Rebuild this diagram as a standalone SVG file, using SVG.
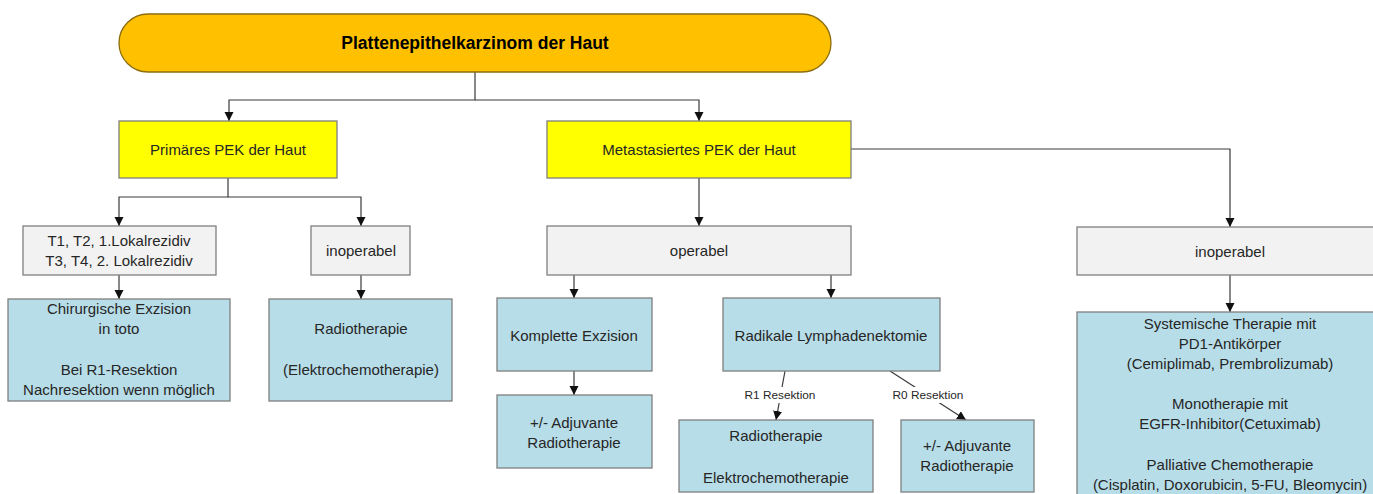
<svg xmlns="http://www.w3.org/2000/svg" width="1373" height="494" viewBox="0 0 1373 494">
<defs>
<marker id="arr" markerUnits="userSpaceOnUse" markerWidth="10" markerHeight="10" refX="9" refY="5" orient="auto">
<path d="M0,0.5 L9,5 L0,9.5 z" fill="#111"/>
</marker>
<style>
.box{stroke:#7f7f7f;stroke-width:1.3}
.pill{fill:#FFC000;stroke:#8c6d10;stroke-width:1.3}
.yel{fill:#FFFF00}
.gry{fill:#F2F2F2}
.blu{fill:#B7DDE8}
.t{font-family:"Liberation Sans",Arial,sans-serif;font-size:15px;fill:#262626;text-anchor:middle;dominant-baseline:central}
.tt{font-family:"Liberation Sans",Arial,sans-serif;font-size:17.5px;font-weight:bold;fill:#000;text-anchor:middle;dominant-baseline:central}
.lbl{font-family:"Liberation Sans",Arial,sans-serif;font-size:11.8px;fill:#262626;text-anchor:middle;dominant-baseline:central}
.c{fill:none;stroke:#3a3a3a;stroke-width:1.2}
</style>
</defs>
<rect width="1373" height="494" fill="#fff"/>

<g id="connectors">
<path class="c" d="M475,72 V100 H229 V121" marker-end="url(#arr)"/>
<path class="c" d="M475,100 H699 V121" marker-end="url(#arr)"/>
<path class="c" d="M228,178 V197 H119 V226" marker-end="url(#arr)"/>
<path class="c" d="M228,197 H361 V226" marker-end="url(#arr)"/>
<path class="c" d="M119,275 V299" marker-end="url(#arr)"/>
<path class="c" d="M361,275 V299" marker-end="url(#arr)"/>
<path class="c" d="M699,178 V226" marker-end="url(#arr)"/>
<path class="c" d="M851,149 H1230 V227" marker-end="url(#arr)"/>
<path class="c" d="M574,275 V298" marker-end="url(#arr)"/>
<path class="c" d="M831,275 V298" marker-end="url(#arr)"/>
<path class="c" d="M574,371 V395" marker-end="url(#arr)"/>
<path class="c" d="M1230,275 V312" marker-end="url(#arr)"/>
<path class="c" d="M785,371 L776,420" marker-end="url(#arr)"/>
<path class="c" d="M890,371 L966,420" marker-end="url(#arr)"/>
<rect x="742" y="387" width="76" height="16" fill="#fff"/>
<text class="lbl" x="780" y="395">R1 Resektion</text>
<rect x="890" y="387" width="76" height="16" fill="#fff"/>
<text class="lbl" x="928" y="395">R0 Resektion</text>
</g>

<g id="root">
<rect class="pill" x="119" y="14" width="712" height="58" rx="29"/>
<text class="tt" x="475" y="43">Plattenepithelkarzinom der Haut</text>
</g>
<g id="primaer">
<rect class="box yel" x="119" y="121" width="218" height="57"/>
<text class="t" x="228" y="149">Primäres PEK der Haut</text>
</g>
<g id="metastasiert">
<rect class="box yel" x="547" y="121" width="304" height="57"/>
<text class="t" x="699" y="149">Metastasiertes PEK der Haut</text>
</g>
<g id="tstadien">
<rect class="box gry" x="23" y="226" width="193" height="49"/>
<text class="t" x="119" y="240">T1, T2, 1.Lokalrezidiv</text>
<text class="t" x="119" y="260">T3, T4, 2. Lokalrezidiv</text>
</g>
<g id="inoperabel1">
<rect class="box gry" x="311" y="226" width="99" height="49"/>
<text class="t" x="361" y="250">inoperabel</text>
</g>
<g id="chirurgie">
<rect class="box blu" x="8" y="299" width="222" height="102"/>
<text class="t" x="119" y="308">Chirurgische Exzision</text>
<text class="t" x="119" y="328">in toto</text>
<text class="t" x="119" y="369">Bei R1-Resektion</text>
<text class="t" x="119" y="389">Nachresektion wenn möglich</text>
</g>
<g id="radio1">
<rect class="box blu" x="269" y="299" width="183" height="102"/>
<text class="t" x="361" y="328">Radiotherapie</text>
<text class="t" x="361" y="369">(Elektrochemotherapie)</text>
</g>
<g id="operabel">
<rect class="box gry" x="547" y="226" width="304" height="49"/>
<text class="t" x="699" y="250">operabel</text>
</g>
<g id="komplette">
<rect class="box blu" x="497" y="298" width="155" height="73"/>
<text class="t" x="574" y="335">Komplette Exzision</text>
</g>
<g id="adjuvant1">
<rect class="box blu" x="497" y="395" width="155" height="73"/>
<text class="t" x="574" y="422">+/- Adjuvante</text>
<text class="t" x="574" y="442">Radiotherapie</text>
</g>
<g id="radikale">
<rect class="box blu" x="723" y="298" width="217" height="73"/>
<text class="t" x="831" y="335">Radikale Lymphadenektomie</text>
</g>
<g id="radio2">
<rect class="box blu" x="679" y="420" width="194" height="72"/>
<text class="t" x="776" y="435">Radiotherapie</text>
<text class="t" x="776" y="477">Elektrochemotherapie</text>
</g>
<g id="adjuvant2">
<rect class="box blu" x="901" y="420" width="133" height="72"/>
<text class="t" x="967" y="445">+/- Adjuvante</text>
<text class="t" x="967" y="465">Radiotherapie</text>
</g>
<g id="inoperabel2">
<rect class="box gry" x="1077" y="227" width="310" height="48"/>
<text class="t" x="1230" y="251">inoperabel</text>
</g>
<g id="systemisch">
<rect class="box blu" x="1077" y="312" width="310" height="190"/>
<text class="t" x="1230" y="323">Systemische Therapie mit</text>
<text class="t" x="1230" y="343">PD1-Antikörper</text>
<text class="t" x="1230" y="363">(Cemiplimab, Prembrolizumab)</text>
<text class="t" x="1230" y="403">Monotherapie mit</text>
<text class="t" x="1230" y="423">EGFR-Inhibitor(Cetuximab)</text>
<text class="t" x="1230" y="464">Palliative Chemotherapie</text>
<text class="t" x="1230" y="484">(Cisplatin, Doxorubicin, 5-FU, Bleomycin)</text>
</g>
</svg>
